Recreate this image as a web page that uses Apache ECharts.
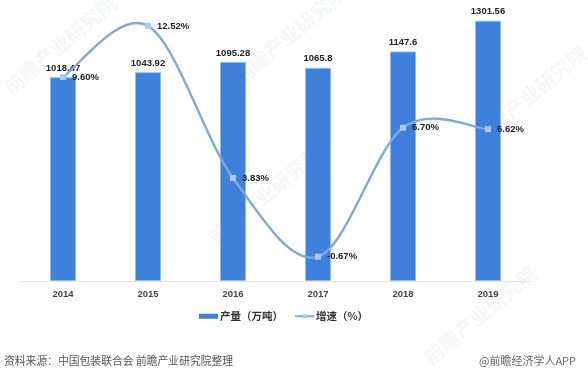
<!DOCTYPE html>
<html><head><meta charset="utf-8">
<style>html,body{margin:0;padding:0;background:#fff}#c{width:588px;height:380px}</style>
<script src="https://cdn.jsdelivr.net/npm/echarts@6/dist/echarts.min.js"></script>
</head><body><div id="c"></div>
<script>
const years = ['2014','2015','2016','2017','2018','2019'];
const output = [1018.47,1043.92,1095.28,1065.8,1147.6,1301.56];
const growth = [9.60,12.52,3.83,-0.67,6.70,6.62];
const sourceText = '资料来源：中国包装联合会 前瞻产业研究院整理';
const creditText = '@前瞻经济学人APP';
const watermark = '前瞻产业研究院';
const cjk = '"Noto Sans CJK SC","Liberation Sans",sans-serif';
const latin = '"Liberation Sans",sans-serif';
const lineColor = '#7ea9da';

const wm = (x,y)=>({type:'text',x,y,rotation:Math.PI/4.5,z:-1,silent:true,
  style:{text:watermark,fontSize:20,fontFamily:cjk,fontWeight:'bold',fill:'rgba(150,160,175,0.10)',align:'center',verticalAlign:'middle'}});

// Spreadsheet-style smoothing: the curve may overshoot the points, which the line series cannot do.
function renderCurve(params, api){
  const i = params.dataIndex;
  if (i >= growth.length-1) return null;
  const pt = k => api.coord([Math.max(0,Math.min(growth.length-1,k)), growth[Math.max(0,Math.min(growth.length-1,k))]]);
  const p0=pt(i-1), p1=pt(i), p2=pt(i+1), p3=pt(i+2);
  return {type:'bezierCurve',silent:true,
    shape:{x1:p1[0],y1:p1[1],x2:p2[0],y2:p2[1],
      cpx1:p1[0]+(p2[0]-p0[0])/6,cpy1:p1[1]+(p2[1]-p0[1])/6,
      cpx2:p2[0]-(p3[0]-p1[0])/6,cpy2:p2[1]-(p3[1]-p1[1])/6},
    style:{stroke:lineColor,lineWidth:2.4,fill:null}};
}

const chart = echarts.init(document.getElementById('c'),null,{renderer:'canvas'});
chart.setOption({
  animation:false,
  backgroundColor:'#fff',
  grid:{left:20.5,right:57.5,top:1,height:280,containLabel:false},
  legend:{
    left:194,top:306,itemGap:11,itemWidth:19,itemHeight:5,
    textStyle:{fontFamily:cjk,fontSize:10.5,fontWeight:'bold',color:'#333',padding:[0,0,0,-3]},
    data:[
      {name:'产量（万吨）',icon:'rect',itemStyle:{borderWidth:0}},
      {name:'增速（%）',lineStyle:{color:lineColor,width:2,opacity:1}}
    ]
  },
  xAxis:{type:'category',data:years,
    axisLine:{lineStyle:{color:'#e4e4e4',width:1}},axisTick:{show:false},
    axisLabel:{margin:8,fontFamily:latin,fontSize:9.5,fontWeight:'bold',color:'#444'}},
  yAxis:[
    {type:'value',min:0,max:1400,show:false,splitLine:{show:false}},
    {type:'value',min:-2.057,max:13.943,show:false,splitLine:{show:false}}
  ],
  series:[
    {name:'产量（万吨）',type:'bar',data:output,barWidth:26,
     itemStyle:{color:'#3f80dd',borderColor:'#8fbcec',borderWidth:1},
     label:{show:true,position:'top',distance:4,fontFamily:latin,fontSize:9.5,fontWeight:'bold',color:'#222',
       formatter:p=>String(p.value)}},
    {name:'曲线',type:'custom',yAxisIndex:1,z:4,data:growth.map((v,i)=>[i,v]),
     encode:{x:0,y:1},renderItem:renderCurve,silent:true},
    {name:'增速（%）',type:'line',yAxisIndex:1,data:growth,z:5,
     symbol:'rect',symbolSize:6,
     lineStyle:{color:lineColor,width:2,opacity:0},
     itemStyle:{color:'#a9c9ee'},
     label:{show:true,position:'right',distance:6,fontFamily:latin,fontSize:9.5,fontWeight:'bold',color:'#222',
       formatter:p=>p.value.toFixed(2)+'%'}}
  ],
  graphic:[
    {type:'text',x:4,y:361,silent:true,style:{text:sourceText,fontFamily:cjk,fontSize:10.8,fill:'#555',verticalAlign:'middle'}},
    {type:'text',x:479,y:361,silent:true,style:{text:creditText,fontFamily:cjk,fontSize:11,fill:'#666',verticalAlign:'middle'}},
    wm(60,45),wm(290,35),wm(530,95),wm(480,315),wm(265,195)
  ]
});
</script></body></html>
